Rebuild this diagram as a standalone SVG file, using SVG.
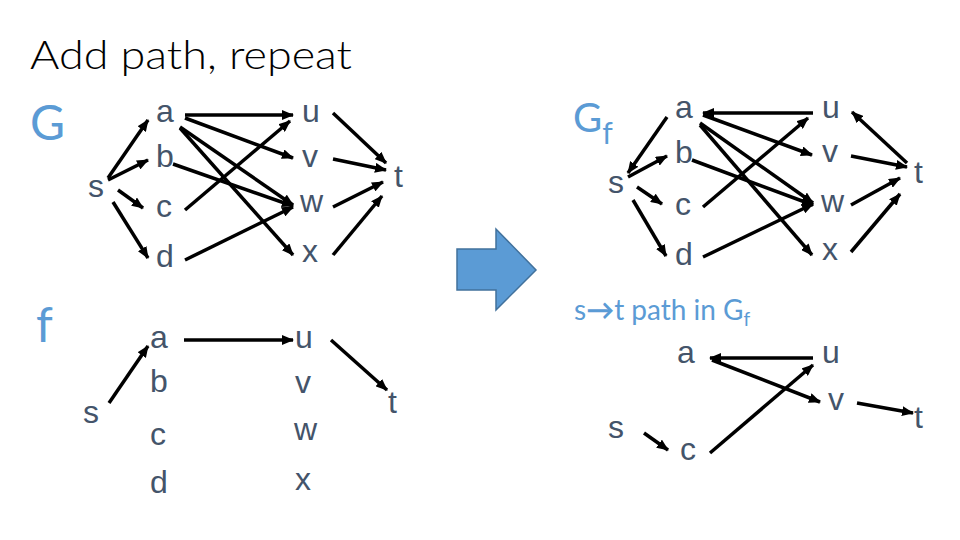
<svg xmlns="http://www.w3.org/2000/svg" width="960" height="540" viewBox="0 0 960 540">
<style>
.n{font-family:"Liberation Sans",Arial,sans-serif;font-size:32px;fill:#44546A}
.lbl{font-family:Lato,"Open Sans",sans-serif;fill:#5B9BD5}
.title{font-family:Lato,"Open Sans",sans-serif;font-weight:300;font-size:40px;fill:#000}
.e line{stroke:#000;stroke-width:3.5;marker-end:url(#ah)}
</style>
<defs>
<marker id="ah" markerUnits="userSpaceOnUse" markerWidth="12" markerHeight="10" refX="11" refY="5" orient="auto">
<path d="M0,0 L12,5 L0,10 z" fill="#000"/>
</marker>
</defs>
<rect width="960" height="540" fill="#fff"/>
<text class="title" x="30" y="69" textLength="322" lengthAdjust="spacingAndGlyphs">Add path, repeat</text>

<text class="lbl" x="30" y="140" font-size="48">G</text>
<text class="lbl" x="36" y="342" font-size="48">f</text>
<text class="lbl" x="573" y="132" font-size="40">G<tspan font-size="30" dy="12">f</tspan></text>
<text class="lbl" x="574" y="320" font-size="28">s<tspan font-weight="bold">→</tspan>t path in G<tspan font-size="19" dy="6">f</tspan></text>

<path id="bigarrow" d="M457,249 L496,249 L496,229 L536,270 L496,310 L496,290 L457,290 z" fill="#5B9BD5" stroke="#41719C" stroke-width="1.5"/>

<g id="G-nodes">
<g id="G-s"><text class="n" x="88" y="197">s</text></g>
<g id="G-a"><text class="n" x="156" y="122">a</text></g>
<g id="G-b"><text class="n" x="156" y="167">b</text></g>
<g id="G-c"><text class="n" x="156" y="217">c</text></g>
<g id="G-d"><text class="n" x="156" y="267">d</text></g>
<g id="G-u"><text class="n" x="302" y="122">u</text></g>
<g id="G-v"><text class="n" x="302" y="167">v</text></g>
<g id="G-w"><text class="n" x="300" y="212">w</text></g>
<g id="G-x"><text class="n" x="302" y="262">x</text></g>
<g id="G-t"><text class="n" x="394" y="187">t</text></g>
</g>

<g id="f-nodes">
<g id="f-s"><text class="n" x="83" y="423">s</text></g>
<g id="f-a"><text class="n" x="150" y="348">a</text></g>
<g id="f-b"><text class="n" x="150" y="392">b</text></g>
<g id="f-c"><text class="n" x="150" y="445">c</text></g>
<g id="f-d"><text class="n" x="150" y="493">d</text></g>
<g id="f-u"><text class="n" x="295" y="348">u</text></g>
<g id="f-v"><text class="n" x="295" y="393">v</text></g>
<g id="f-w"><text class="n" x="294" y="440">w</text></g>
<g id="f-x"><text class="n" x="295" y="490">x</text></g>
<g id="f-t"><text class="n" x="388" y="413">t</text></g>
</g>

<g id="Gf-nodes">
<g id="Gf-s"><text class="n" x="608" y="193">s</text></g>
<g id="Gf-a"><text class="n" x="675" y="118">a</text></g>
<g id="Gf-b"><text class="n" x="675" y="163">b</text></g>
<g id="Gf-c"><text class="n" x="675" y="215">c</text></g>
<g id="Gf-d"><text class="n" x="675" y="265">d</text></g>
<g id="Gf-u"><text class="n" x="822" y="118">u</text></g>
<g id="Gf-v"><text class="n" x="822" y="162">v</text></g>
<g id="Gf-w"><text class="n" x="821" y="212">w</text></g>
<g id="Gf-x"><text class="n" x="822" y="260">x</text></g>
<g id="Gf-t"><text class="n" x="914" y="183">t</text></g>
</g>

<g id="P-nodes">
<g id="P-s"><text class="n" x="608" y="438">s</text></g>
<g id="P-a"><text class="n" x="677" y="363">a</text></g>
<g id="P-c"><text class="n" x="680" y="460">c</text></g>
<g id="P-u"><text class="n" x="822" y="363">u</text></g>
<g id="P-v"><text class="n" x="828" y="410">v</text></g>
<g id="P-t"><text class="n" x="914" y="428">t</text></g>
</g>

<g id="connectors" class="e">
<line x1="108" y1="178" x2="148" y2="120"/>
<line x1="108" y1="180" x2="148" y2="160"/>
<line x1="118" y1="190" x2="143" y2="208"/>
<line x1="113" y1="202" x2="148" y2="258"/>
<line x1="185" y1="115" x2="293" y2="115"/>
<line x1="185" y1="118" x2="293" y2="158"/>
<line x1="180" y1="127" x2="293" y2="205"/>
<line x1="180" y1="128" x2="293" y2="255"/>
<line x1="173" y1="164" x2="293" y2="206"/>
<line x1="185" y1="210" x2="290" y2="121"/>
<line x1="185" y1="260" x2="293" y2="207"/>
<line x1="333" y1="113" x2="386" y2="163"/>
<line x1="333" y1="159" x2="386" y2="170"/>
<line x1="333" y1="207" x2="383" y2="182"/>
<line x1="333" y1="255" x2="382" y2="196"/>

<line x1="109" y1="403" x2="148" y2="346"/>
<line x1="184" y1="340" x2="293" y2="340"/>
<line x1="331" y1="340" x2="387" y2="390"/>

<line x1="667" y1="117" x2="628" y2="173"/>
<line x1="628" y1="177" x2="667" y2="156"/>
<line x1="637" y1="187" x2="662" y2="204"/>
<line x1="633" y1="200" x2="666" y2="256"/>
<line x1="813" y1="113" x2="703" y2="113"/>
<line x1="703" y1="115" x2="812" y2="155"/>
<line x1="700" y1="123" x2="813" y2="203"/>
<line x1="700" y1="125" x2="812" y2="255"/>
<line x1="692" y1="160" x2="813" y2="205"/>
<line x1="703" y1="207" x2="808" y2="118"/>
<line x1="703" y1="257" x2="813" y2="204"/>
<line x1="907" y1="163" x2="852" y2="112"/>
<line x1="851" y1="156" x2="907" y2="167"/>
<line x1="851" y1="205" x2="900" y2="178"/>
<line x1="851" y1="252" x2="900" y2="194"/>

<line x1="813" y1="358" x2="710" y2="358"/>
<line x1="712" y1="360" x2="820" y2="402"/>
<line x1="710" y1="453" x2="813" y2="365"/>
<line x1="644" y1="433" x2="668" y2="450"/>
<line x1="857" y1="403" x2="913" y2="413"/>
</g>
</svg>
